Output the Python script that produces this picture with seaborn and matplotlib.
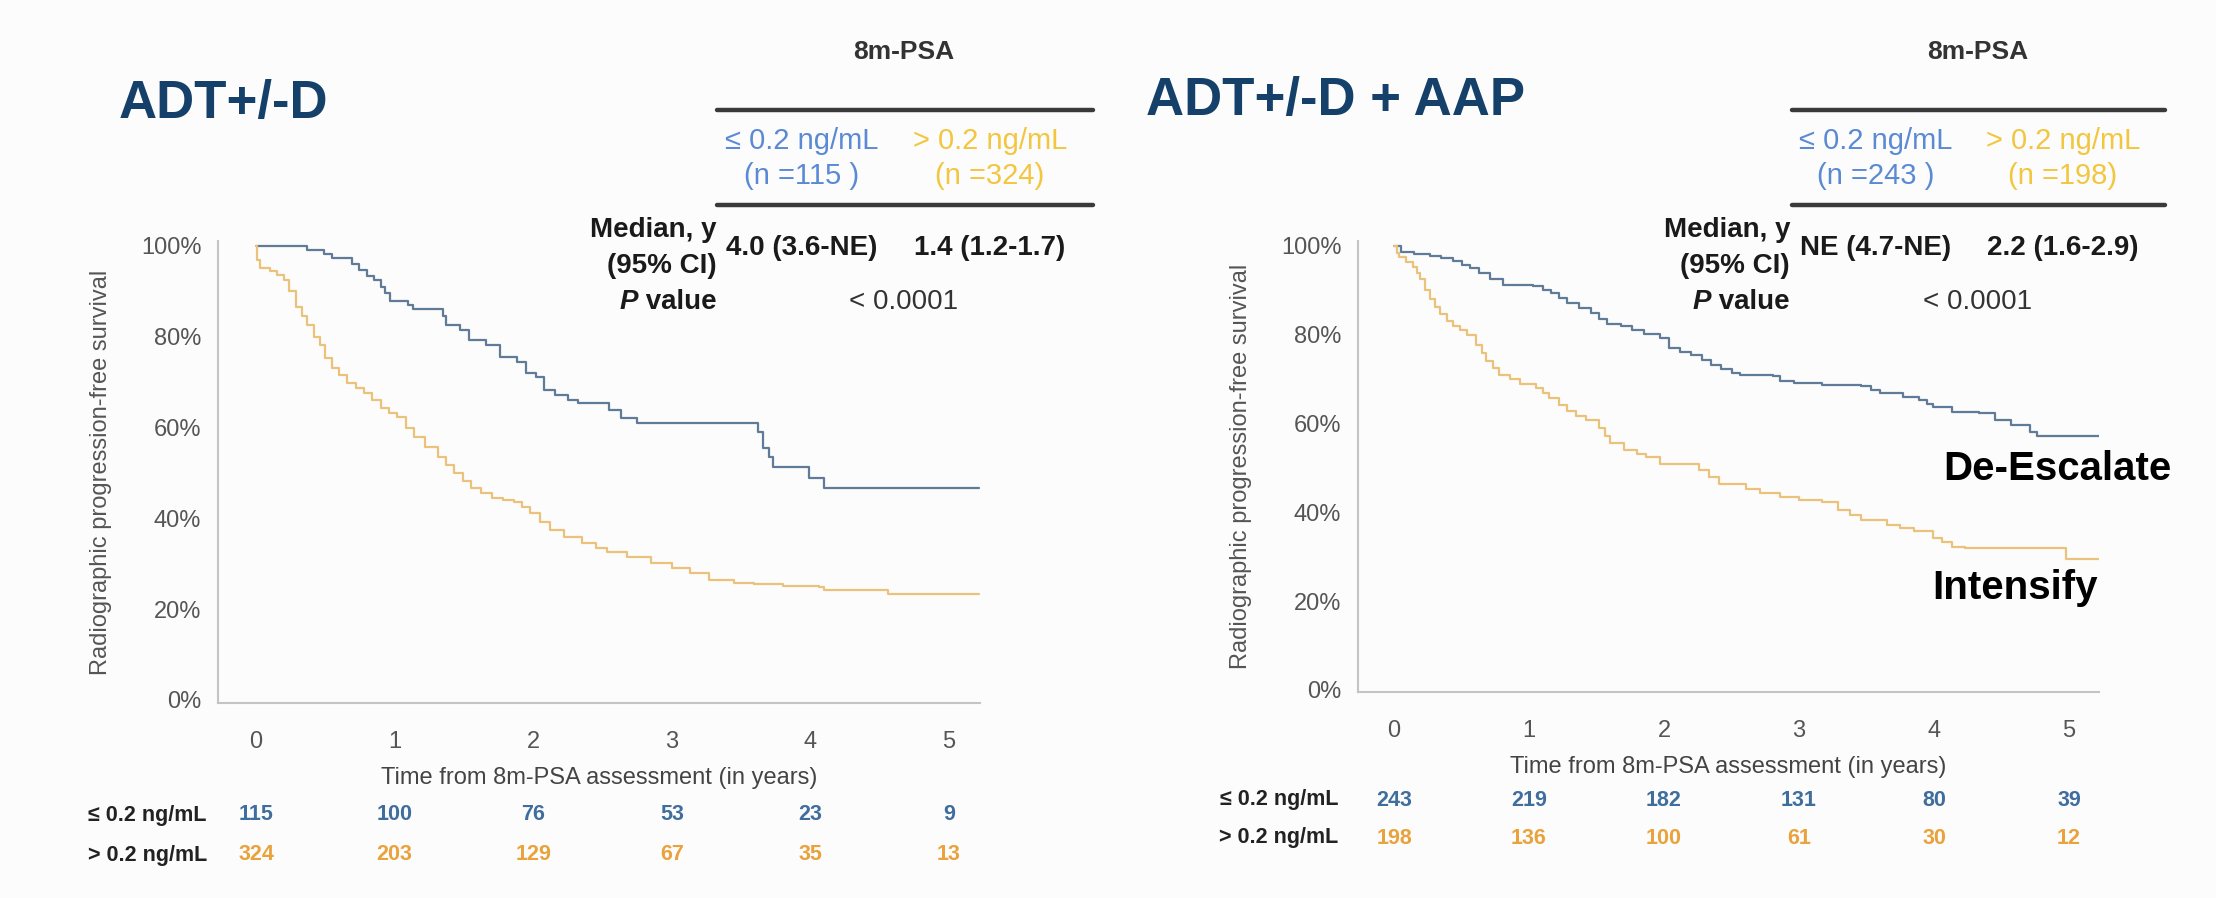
import numpy as np
import pandas as pd
import matplotlib
matplotlib.use("Agg")
import matplotlib.pyplot as plt
import matplotlib.transforms as mtransforms
import seaborn as sns

# ---------------- data ----------------
groups = ["≤ 0.2 ng/mL", "> 0.2 ng/mL"]
x_ticks = [0, 1, 2, 3, 4, 5]
y_ticks = [0, 0.2, 0.4, 0.6, 0.8, 1.0]
y_tick_labels = ["0%", "20%", "40%", "60%", "80%", "100%"]

# Left panel: ADT+/-D
left_low_t = [0, 0.37, 0.49, 0.55, 0.69, 0.74, 0.80, 0.85, 0.90, 0.93, 0.97, 1.10, 1.13, 1.35, 1.37,
              1.47, 1.54, 1.66, 1.76, 1.88, 1.95, 2.02, 2.08, 2.16, 2.25, 2.32, 2.55, 2.63, 2.75,
              3.62, 3.66, 3.70, 3.73, 3.99, 4.10, 5.22]
left_low_s = [1.0, 0.991, 0.982, 0.973, 0.96, 0.947, 0.935, 0.925, 0.91, 0.896, 0.879, 0.870, 0.861,
              0.845, 0.826, 0.815, 0.793, 0.782, 0.756, 0.745, 0.72, 0.712, 0.683, 0.672, 0.661,
              0.654, 0.639, 0.621, 0.610, 0.59, 0.555, 0.535, 0.514, 0.488, 0.466, 0.466]
left_high_t = [0, 0.01, 0.03, 0.10, 0.15, 0.20, 0.24, 0.29, 0.33, 0.37, 0.42, 0.46, 0.50, 0.55, 0.60,
               0.66, 0.72, 0.78, 0.84, 0.90, 0.96, 1.02, 1.08, 1.14, 1.22, 1.31, 1.37, 1.43, 1.49,
               1.55, 1.62, 1.70, 1.78, 1.86, 1.92, 1.98, 2.05, 2.12, 2.22, 2.35, 2.45, 2.53, 2.68,
               2.85, 3.0, 3.13, 3.27, 3.45, 3.59, 3.80, 4.06, 4.10, 4.56, 5.22]
left_high_s = [1.0, 0.97, 0.951, 0.945, 0.936, 0.925, 0.90, 0.866, 0.845, 0.826, 0.80, 0.782, 0.753,
               0.731, 0.715, 0.698, 0.688, 0.676, 0.66, 0.643, 0.633, 0.623, 0.60, 0.579, 0.557,
               0.535, 0.518, 0.50, 0.483, 0.467, 0.455, 0.445, 0.44, 0.436, 0.425, 0.411, 0.393,
               0.374, 0.36, 0.345, 0.335, 0.327, 0.315, 0.301, 0.29, 0.279, 0.264, 0.258, 0.255,
               0.252, 0.25, 0.242, 0.233, 0.233]
left_risk_low = [115, 100, 76, 53, 23, 9]
left_risk_high = [324, 203, 129, 67, 35, 13]

# Right panel: ADT+/-D + AAP
right_low_t = [0, 0.05, 0.15, 0.27, 0.35, 0.44, 0.50, 0.56, 0.63, 0.71, 0.81, 1.03, 1.10, 1.16, 1.22,
               1.28, 1.37, 1.46, 1.52, 1.58, 1.68, 1.76, 1.85, 1.97, 2.04, 2.12, 2.2, 2.28, 2.35,
               2.42, 2.5, 2.56, 2.81, 2.86, 2.96, 3.17, 3.46, 3.53, 3.6, 3.77, 3.89, 3.95, 3.99,
               4.13, 4.33, 4.45, 4.57, 4.71, 4.76, 5.22]
right_low_s = [1.0, 0.987, 0.982, 0.977, 0.972, 0.966, 0.958, 0.951, 0.94, 0.925, 0.913, 0.91, 0.902,
               0.895, 0.883, 0.872, 0.86, 0.85, 0.836, 0.824, 0.82, 0.81, 0.801, 0.793, 0.77, 0.762,
               0.755, 0.744, 0.733, 0.724, 0.715, 0.71, 0.707, 0.696, 0.692, 0.687, 0.685, 0.676,
               0.668, 0.661, 0.653, 0.645, 0.638, 0.627, 0.625, 0.608, 0.597, 0.582, 0.571, 0.571]
right_high_t = [0, 0.02, 0.04, 0.09, 0.14, 0.17, 0.19, 0.23, 0.27, 0.30, 0.34, 0.39, 0.44, 0.49, 0.54,
                0.61, 0.65, 0.68, 0.73, 0.78, 0.86, 0.93, 1.05, 1.10, 1.15, 1.22, 1.28, 1.35, 1.42,
                1.52, 1.56, 1.60, 1.70, 1.80, 1.87, 1.97, 2.14, 2.26, 2.33, 2.41, 2.61, 2.71, 2.86,
                3.0, 3.17, 3.29, 3.38, 3.46, 3.65, 3.75, 3.85, 3.99, 4.06, 4.13, 4.23, 4.98, 5.22]
right_high_s = [1.0, 0.985, 0.976, 0.965, 0.953, 0.94, 0.925, 0.90, 0.88, 0.862, 0.846, 0.832, 0.82,
                0.81, 0.80, 0.778, 0.76, 0.74, 0.725, 0.71, 0.70, 0.69, 0.68, 0.668, 0.658, 0.643,
                0.628, 0.618, 0.608, 0.589, 0.572, 0.556, 0.54, 0.532, 0.525, 0.51, 0.51, 0.495,
                0.48, 0.465, 0.453, 0.443, 0.435, 0.428, 0.424, 0.405, 0.395, 0.383, 0.372, 0.365,
                0.357, 0.342, 0.333, 0.323, 0.319, 0.294, 0.294]
right_risk_low = [243, 219, 182, 131, 80, 39]
right_risk_high = [198, 136, 100, 61, 30, 12]

left_title = "ADT+/-D"
right_title = "ADT+/-D + AAP"
left_n = ["(n =115 )", "(n =324)"]
right_n = ["(n =243 )", "(n =198)"]
left_median = ["4.0 (3.6-NE)", "1.4 (1.2-1.7)"]
right_median = ["NE (4.7-NE)", "2.2 (1.6-2.9)"]
p_text = "< 0.0001"

# ---------------- style ----------------
W, H = 2216, 898
sns.set_theme(style="white")
plt.rcParams["font.family"] = ["Liberation Sans", "DejaVu Sans"]

curve_colors = {groups[0]: "#5f7b97", groups[1]: "#ebc27c"}
risk_colors = ["#3f6e9e", "#e9a23c"]
head_colors = ["#5b8ad4", "#f3c640"]
title_color = "#14406a"
spine_color = "#c4c4c4"

fig = plt.figure(figsize=(W / 100, H / 100), dpi=100, facecolor="#fcfcfc")


def fx(px):
    return px / W


def fy(py):
    return 1 - py / H


def make_axes(x0, x1, y_axis_line, y_top, xzero, xfive, y0px, y1px):
    ax = fig.add_axes([fx(x0), fy(y_axis_line), (x1 - x0) / W, (y_axis_line - y_top) / H])
    ppu_x = (xfive - xzero) / 5.0
    ppu_y = (y0px - y1px)
    ax.set_xlim((x0 - xzero) / ppu_x, (x1 - xzero) / ppu_x)
    ax.set_ylim(-(y_axis_line - y0px) / ppu_y, 1 + (y1px - y_top) / ppu_y)
    return ax


def draw_panel(ax, t_low, s_low, t_high, s_high):
    df = pd.concat([
        pd.DataFrame({"time": t_low, "surv": s_low, "group": groups[0]}),
        pd.DataFrame({"time": t_high, "surv": s_high, "group": groups[1]}),
    ], ignore_index=True)
    sns.lineplot(data=df, x="time", y="surv", hue="group", palette=curve_colors,
                 estimator=None, sort=False, drawstyle="steps-post", linewidth=1.6,
                 legend=False, ax=ax)
    ax.set_facecolor("none")
    for s in ["top", "right"]:
        ax.spines[s].set_visible(False)
    for s in ["left", "bottom"]:
        ax.spines[s].set_color(spine_color)
        ax.spines[s].set_linewidth(1.5)
    ax.set_xticks(x_ticks)
    ax.set_xticklabels([str(v) for v in x_ticks])
    ax.set_yticks(y_ticks)
    ax.set_yticklabels(y_tick_labels)
    ax.tick_params(axis="x", direction="out", length=8, width=1.2, color=spine_color,
                   pad=12, labelsize=17, labelcolor="#555555")
    ax.tick_params(axis="y", direction="out", length=8, width=1.2, color=spine_color,
                   pad=4, labelsize=17, labelcolor="#555555")
    ax.set_xlabel("Time from 8m-PSA assessment (in years)", fontsize=17, color="#444444",
                  labelpad=10)
    ax.set_ylabel("Radiographic progression-free survival", fontsize=17, color="#555555",
                  va="center")


# Left axes
axL = make_axes(218, 980, 703, 241, 256, 949, 700, 246)
draw_panel(axL, left_low_t, left_low_s, left_high_t, left_high_s)
axL.yaxis.set_label_coords(-117 / 762, 0.5)

# Right axes
axR = make_axes(1358, 2099, 692, 241, 1394, 2069, 690, 246)
draw_panel(axR, right_low_t, right_low_s, right_high_t, right_high_s)
axR.yaxis.set_label_coords(-117 / 741, 0.5)


# Risk tables
def risk_table(ax, label_right, y_rows, low, high):
    tr = mtransforms.blended_transform_factory(ax.transData, fig.transFigure)
    for g, yy in zip(groups, y_rows):
        fig.text(fx(label_right), fy(yy), g, ha="right", va="center", fontsize=15.5,
                 weight="bold", color="#222222")
    for vals, yy, c in zip([low, high], y_rows, risk_colors):
        for xv, v in zip(x_ticks, vals):
            ax.text(xv, fy(yy), str(v), transform=tr, ha="center", va="center",
                    fontsize=15.5, weight="bold", color=c)


risk_table(axL, 207, [815, 855], left_risk_low, left_risk_high)
risk_table(axR, 1338, [800, 838], right_risk_low, right_risk_high)

# Titles
fig.text(fx(119), fy(104), left_title, ha="left", va="center", fontsize=38, weight="bold",
         color=title_color)
fig.text(fx(1146), fy(101), right_title, ha="left", va="center", fontsize=38, weight="bold",
         color=title_color)

renderer = fig.canvas.get_renderer()


def summary_table(rule_x0, rule_x1, c_low, c_high, c_mid, row_right, n_texts, med_texts):
    fig.text(fx(c_mid), fy(52), "8m-PSA", ha="center", va="center", fontsize=19,
             weight="bold", color="#333333")
    for yy in [110, 205]:
        fig.add_artist(plt.Line2D([fx(rule_x0), fx(rule_x1)], [fy(yy), fy(yy)],
                                  transform=fig.transFigure, color="#3a3a3a", linewidth=3.2))
    for cx, col, g, nt in zip([c_low, c_high], head_colors, groups, n_texts):
        fig.text(fx(cx), fy(141), g, ha="center", va="center", fontsize=21,
                 color=col)
        fig.text(fx(cx), fy(176), nt, ha="center", va="center", fontsize=21,
                 color=col)
    fig.text(fx(row_right), fy(230), "Median, y", ha="right", va="center", fontsize=20,
             weight="bold", color="#1a1a1a")
    fig.text(fx(row_right), fy(266), "(95% CI)", ha="right", va="center", fontsize=20,
             weight="bold", color="#1a1a1a")
    for cx, mt in zip([c_low, c_high], med_texts):
        fig.text(fx(cx), fy(248), mt, ha="center", va="center", fontsize=20, weight="bold",
                 color="#1a1a1a")
    tv = fig.text(fx(row_right), fy(302), " value", ha="right", va="center", fontsize=20,
                  weight="bold", color="#1a1a1a")
    bb = tv.get_window_extent(renderer)
    fig.text(bb.x0 / W, fy(302), "P", ha="right", va="center", fontsize=20, weight="bold",
             style="italic", color="#1a1a1a")
    fig.text(fx(c_mid), fy(302), p_text, ha="center", va="center", fontsize=20,
             color="#333333")


summary_table(717, 1093, 802, 990, 904, 717, left_n, left_median)
summary_table(1792, 2165, 1876, 2063, 1978, 1790, right_n, right_median)

# Annotations
fig.text(fx(1943), fy(469), "De-Escalate", ha="left", va="center", fontsize=29, weight="bold",
         color="#000000")
fig.text(fx(1932), fy(588), "Intensify", ha="left", va="center", fontsize=29, weight="bold",
         color="#000000")

fig.savefig("out.png", dpi=100, facecolor=fig.get_facecolor())
